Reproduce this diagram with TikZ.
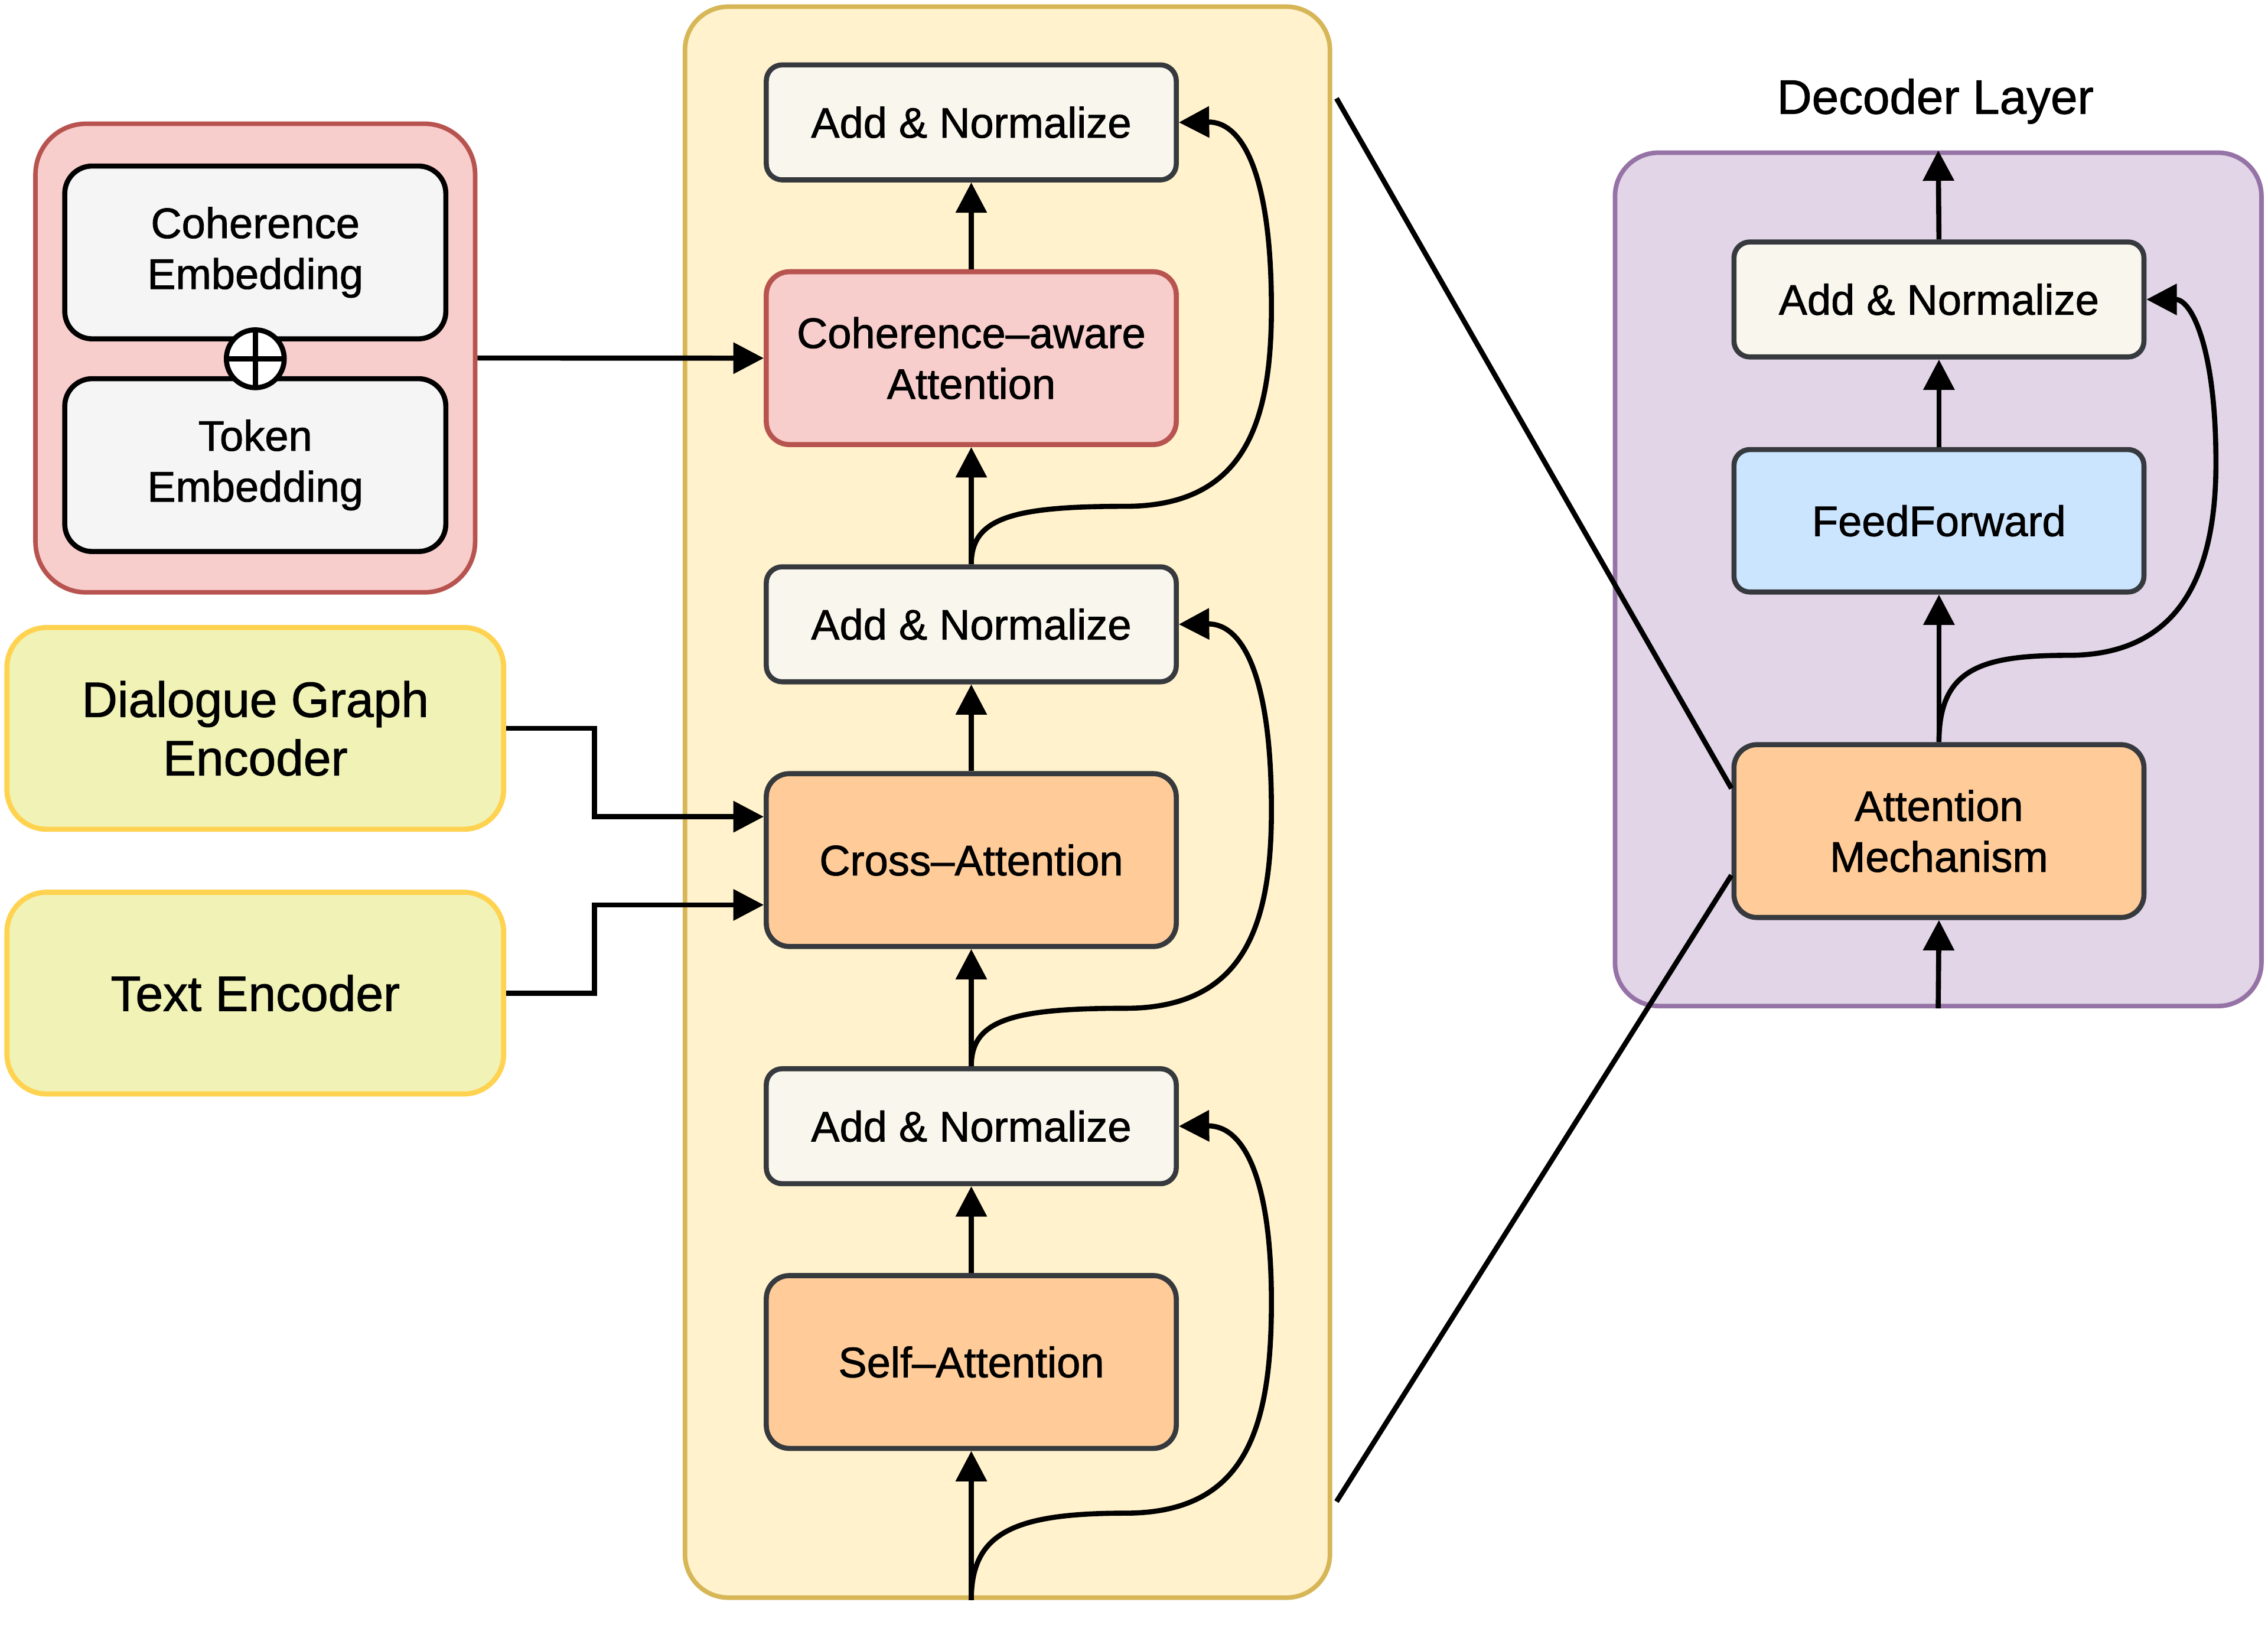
\documentclass[tikz,border=0pt]{standalone}
\usepackage{fontspec}
\setmainfont{Liberation Sans}[FakeBold=1.2]
\usetikzlibrary{positioning, arrows.meta, calc}

\definecolor{stackfill}{HTML}{FFF2CC}
\definecolor{stackline}{HTML}{D6B656}
\definecolor{normfill}{HTML}{F9F7ED}
\definecolor{boxline}{HTML}{36393D}
\definecolor{cohfill}{HTML}{F8CECC}
\definecolor{cohline}{HTML}{B85450}
\definecolor{attnfill}{HTML}{FFCC99}
\definecolor{embfill}{HTML}{F5F5F5}
\definecolor{encfill}{HTML}{F0F2B6}
\definecolor{encline}{HTML}{FFD24F}
\definecolor{decfill}{HTML}{E1D5E7}
\definecolor{decline}{HTML}{9673A6}
\definecolor{fffill}{HTML}{CCE5FF}

\begin{document}
\begin{tikzpicture}[
			x=0.02cm, y=-0.02cm,
			node distance=1.2cm,
			box/.style={draw=boxline, rectangle, rounded corners=0.22cm, minimum width=5.67cm, minimum height=1.59cm, align=center, fill=normfill, line width=2pt, font=\fontsize{16.8}{20}\selectfont},
			attn/.style={box, minimum height=2.39cm, rounded corners=0.32cm, fill=attnfill},
			panel/.style={rectangle, rounded corners=0.6cm, line width=1.8pt},
			emb/.style={box, draw=black, fill=embfill, minimum width=5.27cm, minimum height=2.39cm, rounded corners=0.38cm},
			enc/.style={box, draw=encline, fill=encfill, minimum width=6.87cm, minimum height=2.79cm, rounded corners=0.55cm, font=\fontsize{19.5}{23}\selectfont},
			arrow/.style={-{Triangle[length=0.42cm, width=0.42cm]}, line width=2pt},
			link/.style={line width=2pt}
			]
			\useasboundingbox (0,0) rectangle (1568,1123);
			
			% Containers
			\node[panel, draw=stackline, fill=stackfill, minimum width=8.92cm, minimum height=22cm] (stack) at (696.5,554.5) {};
			\node[panel, draw=cohline, fill=cohfill, minimum width=6.08cm, minimum height=6.48cm, rounded corners=0.7cm] (embed) at (176.5,247.5) {};
			\node[panel, draw=decline, fill=decfill, minimum width=8.94cm, minimum height=11.8cm] (dec) at (1340,400.5) {};
			\node[font=\fontsize{19}{23}\selectfont] (dectitle) at (1338,70) {Decoder Layer};
			
			% Encoder stack
			\node[attn] (self) at (671.5,941.5) {Self--Attention};
			\node[box, above=of self] (norm3) {Add \& Normalize};
			\node[attn, above=1.62cm of norm3] (cross) {Cross--Attention};
			\node[box, above=of cross] (norm2) {Add \& Normalize};
			\node[attn, fill=cohfill, draw=cohline, above=1.62cm of norm2] (coh) {Coherence--aware\\Attention};
			\node[box, above=of coh] (norm1) {Add \& Normalize};
			\coordinate (in) at (671.5,1106);
			
			% Inputs
			\node[emb] (cemb) at (176.5,174.5) {Coherence\\Embedding};
			\node[emb] (temb) at (176.5,321.5) {Token\\Embedding};
			\node[circle, draw=black, fill=white, line width=2pt, minimum size=0.8cm, inner sep=0pt,
				path picture={\draw[line width=2pt] (path picture bounding box.north) -- (path picture bounding box.south) (path picture bounding box.west) -- (path picture bounding box.east);}] (plus) at (176.5,248) {};
			\node[enc] (graph) at (176.5,503.5) {Dialogue Graph\\Encoder};
			\node[enc] (text) at (176.5,686.5) {Text Encoder};
			
			% Decoder layer
			\node[attn] (mech) at (1340.5,574.5) {Attention\\Mechanism};
			\node[box, fill=fffill, minimum height=1.97cm] (ff) at (1340.5,360) {FeedForward};
			\node[box] (dnorm) at (1340.5,207) {Add \& Normalize};
			\coordinate (zoomtop) at (924,68);
			\coordinate (zoombot) at (924,1038);
			
			% Arrows
			\draw[arrow] (in) -- (self);
			\draw[arrow] (self) -- (norm3);
			\draw[arrow] (norm3) -- (cross);
			\draw[arrow] (cross) -- (norm2);
			\draw[arrow] (norm2) -- (coh);
			\draw[arrow] (coh) -- (norm1);
			
			\draw[arrow] (in) .. controls (671.5,1060) and (700,1046) .. (778,1046) .. controls (860,1046) and (879,990) .. (879,900) .. controls (879,815) and (860,778) .. (norm3.east);
			\draw[arrow] (norm3.north) .. controls (671.5,705) and (700,697) .. (778,697) .. controls (860,697) and (879,640) .. (879,560) .. controls (879,470) and (860,431) .. (norm2.east);
			\draw[arrow] (norm2.north) .. controls (671.5,358) and (700,350) .. (778,350) .. controls (860,350) and (879,293) .. (879,213) .. controls (879,123) and (860,84) .. (norm1.east);
			
			\draw[arrow] (embed.east) -- (coh.west);
			\draw[arrow] (graph.east) -- ++(1.22cm,0) |- ([yshift=0.6cm]cross.west);
			\draw[arrow] (text.east) -- ++(1.22cm,0) |- ([yshift=-0.62cm]cross.west);
			
			\draw[arrow] (dec.south) -- (mech.south);
			\draw[arrow] (mech) -- (ff);
			\draw[arrow] (ff) -- (dnorm);
			\draw[arrow] (dnorm.north) -- (dec.north);
			\draw[arrow] (mech.north) .. controls (1340.5,462) and (1370,453) .. (1430,453) .. controls (1505,453) and (1532,400) .. (1532,320) .. controls (1532,240) and (1515,207) .. (dnorm.east);
			
			\draw[link] (zoomtop) -- ([yshift=0.59cm]mech.west);
			\draw[link] (zoombot) -- ([yshift=-0.61cm]mech.west);
			
		\end{tikzpicture}
\end{document}
